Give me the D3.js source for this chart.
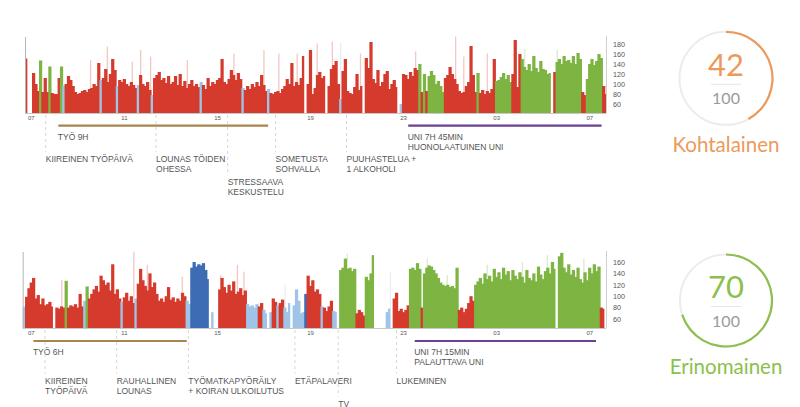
<!DOCTYPE html>
<html><head><meta charset="utf-8">
<script src="https://cdn.jsdelivr.net/npm/d3@7"></script>
<style>body{margin:0;background:#fff;}svg{display:block;}</style>
</head><body>
<svg id="c" width="800" height="407"></svg>
<script>
// ---------- DATA ----------
const hourTicks = [7, 11, 15, 19, 23, 27, 31];
const hourTickLabels = ["07", "11", "15", "19", "23", "03", "07"];
const barHours = 0.1;

const day1Start = 6.75;
const day1YTicks = [60, 80, 100, 120, 140, 160, 180];
const day1Values = [
 151,null,null,122,100,86,147,84,112,84,
 135,82,80,80,112,135,97,100,116,108,
 96,84,80,82,86,88,84,90,92,100,
 96,142,108,112,130,104,120,150,128,96,
 108,104,110,100,96,104,98,92,98,118,
 100,96,104,88,78,112,118,124,108,112,
 102,116,100,104,116,98,120,96,106,92,
 100,108,96,100,94,104,98,90,112,96,
 104,100,108,112,150,104,100,110,128,118,
 108,122,110,92,88,96,90,100,94,104,
 96,118,98,86,90,82,80,84,86,82,
 90,96,110,100,142,96,104,98,112,156,
 null,100,168,80,92,118,124,112,116,null,
 96,130,138,146,100,70,126,150,86,82,
 80,94,120,88,96,null,152,132,184,110,
 102,128,96,104,120,126,90,100,108,94,
 null,60,120,118,110,124,116,132,128,140,
 84,120,86,116,126,118,100,106,96,84,
 112,118,134,120,110,100,86,82,84,96,
 104,176,118,84,122,82,88,80,86,82,
 90,150,106,108,114,122,110,118,104,120,
 188,94,160,150,134,128,140,126,156,132,
 124,146,130,128,120,122,null,124,144,150,
 140,156,146,148,142,156,140,162,150,84,
 78,110,140,150,138,146,160,152,96,80];
// r = stress (red), g = recovery (green), b = light activity, d = exercise, - = no data
const day1Zones =
 "r--rrrgrrr" + "grrrrgbrrr" + "rrrrrrrrrr" + "rrbrrrrrrb" + "rrrrrrrrbr" +
 "rrrrbrrrrr" + "rrrrrrrrrr" + "rrrrrbrrrr" + "rrrrrrrrrr" + "rrrbrrrrrr" +
 "rrrrbrrrrr" + "rrrrrrrrrr" + "-rrrrrrrr-" + "rrrrrbrrrr" + "rrrrr-rrrr" +
 "rrrrrrrrrr" + "-brrrrrrrg" + "rgrggggggg" + "rrrrrrrrrr" + "rrrrgrrrrr" +
 "rrgggggggr" + "rrrggggggg" + "gggggg-rgg" + "gggggggggr" + "rgggggggrr";
// short-lived peaks drawn as pale spikes
const day1PeakHours  = [9.54, 10.26, 11.33, 11.69, 12.12, 13.70, 15.70, 16.99, 17.63, 18.42, 19.28, 19.93, 20.29, 21.14, 23.51, 25.23, 25.58, 26.59, 28.2, 29.6];
const day1PeakValues = [148, 175, 145, 168, 155, 148, 161, 168, 161, 161, 181, 185, 182, 161, 165, 195, 155, 161, 170, 168];
const day1Spans = [
  {kind: "work", from: 8.18, to: 17.2, text: ["TYÖ 9H"]},
  {kind: "sleep", from: 23.22, to: 31.53, text: ["UNI 7H 45MIN", "HUONOLAATUINEN UNI"]}
];
const day1Events = [
  {hour: 7.64, text: ["KIIREINEN TYÖPÄIVÄ"]},
  {hour: 12.38, text: ["LOUNAS TÖIDEN", "OHESSA"]},
  {hour: 15.46, text: ["STRESSAAVA", "KESKUSTELU"]},
  {hour: 17.52, text: ["SOMETUSTA", "SOHVALLA"]},
  {hour: 20.57, text: ["PUUHASTELUA +", "1 ALKOHOLI"]}
];
const day1Score = 42;
const day1Rating = "Kohtalainen";

const day2Start = 6.65;
const day2YTicks = [60, 80, 100, 120, 140, 160];
const day2Values = [
 82,99,114,124,132,96,102,86,96,84,
 86,90,82,null,80,78,82,80,127,80,
 84,82,86,80,104,82,92,117,96,104,
 112,118,108,136,128,120,124,110,156,104,
 112,96,90,98,106,92,100,88,96,122,
 148,128,118,110,140,116,124,104,92,96,
 90,100,116,94,98,90,96,92,106,100,
 92,86,150,160,152,156,154,158,146,130,
 null,72,null,null,112,132,116,106,120,110,
 126,104,108,114,102,110,86,82,84,80,
 86,82,88,76,70,null,72,96,90,84,
 88,94,80,72,88,null,84,112,92,70,
 72,104,136,118,128,108,112,104,82,80,
 74,82,92,74,72,null,146,150,166,148,
 150,144,148,70,76,72,66,134,128,140,
 172,null,null,null,null,null,72,78,null,96,
 106,74,78,72,76,84,148,150,146,158,
 148,80,140,150,154,152,146,140,132,124,
 120,118,120,116,118,114,150,76,80,72,
 78,88,100,92,120,126,132,122,140,130,
 136,126,148,134,142,130,150,138,144,128,
 146,136,130,142,134,124,146,132,128,140,
 126,152,138,130,144,150,140,160,148,null,
 170,176,150,142,156,138,146,134,150,130,
 124,142,128,150,140,156,144,152,80,78];
const day2Zones =
 "brrrrrrrrr" + "rrr-rrrrgr" + "rrrrrrbgrr" + "rrrrrrrrrr" + "rrbrrrrrbr" +
 "rrrrrrrrrr" + "rrrrrrrrrr" + "bbdddddddd" + "-b--rrrrrr" + "rrrrrrbbbb" +
 "brrbb-brrb" + "rrbbb-bbbb" + "bdrrrrrrbr" + "rrrbb-gggg" + "gggrrrrggg" +
 "g-----bb-r" + "rrrrrrgggg" + "grgggggggg" + "gggggggrrr" + "rrrrgggggg" +
 "gggggggggg" + "gggggggggg" + "ggggggggg-" + "gggggggggg" + "ggggggggrr";
const day2PeakHours  = [8.3, 11.40, 11.98, 13.48, 15.13, 15.85, 16.13, 17.9, 20.57, 22.43, 24.01, 24.87, 26.59, 28.1, 29.17, 30.74];
const day2PeakValues = [128, 178, 155, 134, 137, 155, 143, 120, 175, 143, 166, 137, 155, 160, 172, 166];
const day2Spans = [
  {kind: "work", from: 7.11, to: 13.7, text: ["TYÖ 6H"]},
  {kind: "sleep", from: 23.5, to: 31.29, text: ["UNI 7H 15MIN", "PALAUTTAVA UNI"]}
];
const day2Events = [
  {hour: 7.61, text: ["KIIREINEN", "TYÖPÄIVÄ"]},
  {hour: 10.69, text: ["RAUHALLINEN", "LOUNAS"]},
  {hour: 13.77, text: ["TYÖMATKAPYÖRÄILY", "+ KOIRAN ULKOILUTUS"]},
  {hour: 18.35, text: ["ETÄPALAVERI"]},
  {hour: 20.21, text: ["TV"]},
  {hour: 22.72, text: ["LUKEMINEN"]}
];
const day2Score = 70;
const day2Rating = "Erinomainen";

// ---------- LAYOUT / STYLE ----------
const zoneColor = {r: "#d53b2d", g: "#7db442", b: "#9fc4e8", d: "#3d6cb4"};
const spanColor = {work: "#a8844e", sleep: "#6b3f92"};
const day1Tiers = [0, 0, 2, 0, 0];
const day2Tiers = [0, 0, 0, 0, 2, 0];

const svg = d3.select("#c");
const x = d3.scaleLinear().domain([6.65, 31.75]).range([22.7, 606.7]);
const axisX = 606;
const font = "Liberation Sans, Arial, sans-serif";

function drawDay(cfg) {
  const g = svg.append("g");
  const y = d3.scaleLinear().domain(cfg.domain).range([cfg.base, cfg.top]);
  const bars = cfg.values.map((v, i) => ({v, z: cfg.zones[i], h: cfg.start + i * barHours, i}))
    .filter(d => d.v != null && d.z !== "-");
  const bw = x(cfg.start + barHours) - x(cfg.start);
  const hasNext = i => cfg.values[i + 1] != null && cfg.zones[i + 1] !== "-";

  // baseline
  g.append("line").attr("x1", x(cfg.start)).attr("x2", axisX)
    .attr("y1", cfg.base + 0.5).attr("y2", cfg.base + 0.5)
    .attr("stroke", "#c8c8c8").attr("stroke-width", 1);

  // pale peaks (behind bars)
  const peaks = cfg.peakHours.map((h, i) => {
    const idx = Math.min(cfg.zones.length - 1, Math.max(0, Math.floor((h - cfg.start) / barHours)));
    const z = cfg.zones[idx] === "-" ? "r" : cfg.zones[idx];
    return {h, v: cfg.peakValues[i], z};
  });
  g.selectAll("rect.peak").data(peaks).join("rect")
    .attr("class", "peak")
    .attr("x", d => x(d.h))
    .attr("width", 1.3)
    .attr("y", d => y(d.v))
    .attr("height", d => cfg.base - y(d.v))
    .attr("fill", d => d3.interpolateRgb(zoneColor[d.z], "#ffffff")(0.72));

  g.selectAll("rect.bar").data(bars).join("rect")
    .attr("class", "bar")
    .attr("x", d => x(d.h))
    .attr("width", d => hasNext(d.i) ? bw + 0.9 : bw)
    .attr("y", d => y(d.v))
    .attr("height", d => cfg.base - y(d.v))
    .attr("fill", d => zoneColor[d.z]);

  // left edge line
  g.append("line").attr("x1", x(cfg.start) + 0.5).attr("x2", x(cfg.start) + 0.5)
    .attr("y1", cfg.top + 1).attr("y2", cfg.base)
    .attr("stroke", "#b5b5b5").attr("stroke-width", 1);

  // right y axis
  const ya = d3.axisRight(y).tickValues(cfg.yTicks).tickSize(0).tickPadding(7);
  const yg = g.append("g").attr("transform", `translate(${axisX},0)`).call(ya);
  yg.select(".domain").attr("stroke", "#cfcfcf").attr("d", `M0.5,${cfg.top}V${cfg.base}`);
  yg.selectAll("text").attr("font-family", font).attr("font-size", 7.2).attr("fill", "#555");

  // x axis labels
  const xa = d3.axisBottom(x).tickValues(hourTicks).tickSize(0).tickPadding(0)
    .tickFormat((d, i) => hourTickLabels[i]);
  const xg = g.append("g").attr("transform", `translate(0,${cfg.base + 2})`).call(xa);
  xg.select(".domain").remove();
  xg.selectAll("text").attr("font-family", font)
    .attr("font-size", 6).attr("fill", "#555").attr("dy", "0.9em");

  // spans
  cfg.spans.forEach(s => {
    g.append("line").attr("x1", x(s.from)).attr("x2", x(s.to))
      .attr("y1", cfg.base + cfg.spanOff).attr("y2", cfg.base + cfg.spanOff)
      .attr("stroke", spanColor[s.kind]).attr("stroke-width", 2.2);
    s.text.forEach((t, k) => {
      g.append("text").attr("x", x(s.from) - 0.5).attr("y", cfg.base + cfg.spanOff + 14 + k * 10)
        .attr("font-family", font).attr("font-size", 8.5).attr("fill", "#555").text(t);
    });
  });
  // events
  cfg.events.forEach((e, i) => {
    const yb = cfg.base + cfg.eventOff + cfg.tiers[i] * 11.5;
    g.append("line").attr("x1", x(e.hour)).attr("x2", x(e.hour))
      .attr("y1", cfg.base + 2).attr("y2", yb - 10)
      .attr("stroke", "#d6d6d6").attr("stroke-width", 1).attr("stroke-dasharray", "3,3");
    e.text.forEach((t, k) => {
      g.append("text").attr("x", x(e.hour)).attr("y", yb + k * 10)
        .attr("font-family", font).attr("font-size", 8.5).attr("fill", "#555").text(t);
    });
  });
}

function drawGauge(cx, cy, r, score, rating, color) {
  const g = svg.append("g").attr("transform", `translate(${cx},${cy})`);
  g.append("circle").attr("r", r).attr("fill", "none").attr("stroke", "#ececec").attr("stroke-width", 2);
  const arc = d3.arc().innerRadius(r - 1.1).outerRadius(r + 1.1).startAngle(0)
    .endAngle(2 * Math.PI * score / 100);
  g.append("path").attr("d", arc()).attr("fill", color);
  const lf = "Lato, 'Open Sans', sans-serif";
  g.append("text").attr("text-anchor", "middle").attr("y", -2.5).attr("font-family", lf)
    .attr("font-size", 31).attr("fill", color).text(score);
  g.append("line").attr("x1", -15).attr("x2", 15).attr("y1", 6).attr("y2", 6)
    .attr("stroke", "#e6e6e6").attr("stroke-width", 1);
  g.append("text").attr("text-anchor", "middle").attr("y", 26).attr("font-family", lf)
    .attr("font-size", 16).attr("fill", "#9a9a9a").text(100);
  g.append("text").attr("text-anchor", "middle").attr("y", 73.5).attr("font-family", lf)
    .attr("font-size", 20.5).attr("fill", color).text(rating);
}

drawDay({start: day1Start, values: day1Values, zones: day1Zones, domain: [42, 196],
  top: 36, base: 113, yTicks: day1YTicks, spans: day1Spans, events: day1Events,
  peakHours: day1PeakHours, peakValues: day1PeakValues,
  tiers: day1Tiers, spanOff: 12.7, eventOff: 49.3});
drawDay({start: day2Start, values: day2Values, zones: day2Zones, domain: [44.2, 179.3],
  top: 251, base: 328, yTicks: day2YTicks, spans: day2Spans, events: day2Events,
  peakHours: day2PeakHours, peakValues: day2PeakValues,
  tiers: day2Tiers, spanOff: 13, eventOff: 55.5});

drawGauge(726, 78.3, 46.5, day1Score, day1Rating, "#ec9a5c");
drawGauge(726, 300.5, 46, day2Score, day2Rating, "#8cbf4c");
</script>
</body></html>
